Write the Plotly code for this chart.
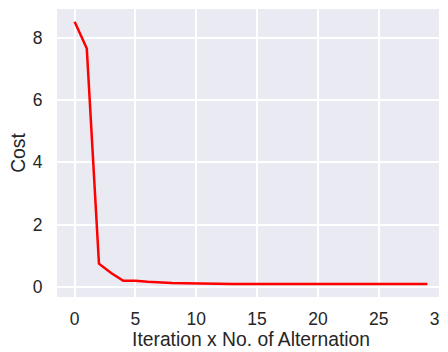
import plotly.graph_objects as go

iterations = list(range(30))
cost = [8.51, 7.65, 0.75, 0.45, 0.20, 0.20, 0.17, 0.14, 0.13, 0.12,
        0.11, 0.11, 0.105, 0.10, 0.10, 0.10, 0.10, 0.10, 0.10, 0.10,
        0.10, 0.10, 0.10, 0.10, 0.10, 0.10, 0.10, 0.10, 0.10, 0.10]
x_ticks = [0, 5, 10, 15, 20, 25, 30]
y_ticks = [0, 2, 4, 6, 8]

fig = go.Figure()
fig.add_trace(go.Scatter(x=iterations, y=cost, mode="lines",
                         line=dict(color="#ff0000", width=2.5),
                         showlegend=False))

# page body has an 8px margin, so the figure is offset by 8px
font = dict(family="Liberation Sans, Arial, sans-serif", color="#262626")
fig.update_layout(
    width=448, height=352,
    margin=dict(l=49, r=11, t=1, b=63),
    paper_bgcolor="white", plot_bgcolor="#EAEAF2",
    font=dict(**font, size=17.5),
    xaxis=dict(range=[-1.45, 30.45], tickvals=x_ticks, showgrid=True,
               gridcolor="white", gridwidth=1.5, zeroline=False,
               ticks="outside", ticklen=6, tickcolor="rgba(0,0,0,0)",
               tickfont=dict(size=17.5), automargin=False,
               title=dict(text="Iteration x No. of Alternation", font=dict(size=19.3), standoff=3)),
    yaxis=dict(range=[-0.32, 8.92], tickvals=y_ticks, showgrid=True,
               gridcolor="white", gridwidth=1.5, zeroline=False,
               ticks="outside", ticklen=10, tickcolor="rgba(0,0,0,0)",
               tickfont=dict(size=17.5), automargin=False,
               title=dict(text="Cost", font=dict(size=19.3), standoff=10)),
)
fig.write_html("out.html")
